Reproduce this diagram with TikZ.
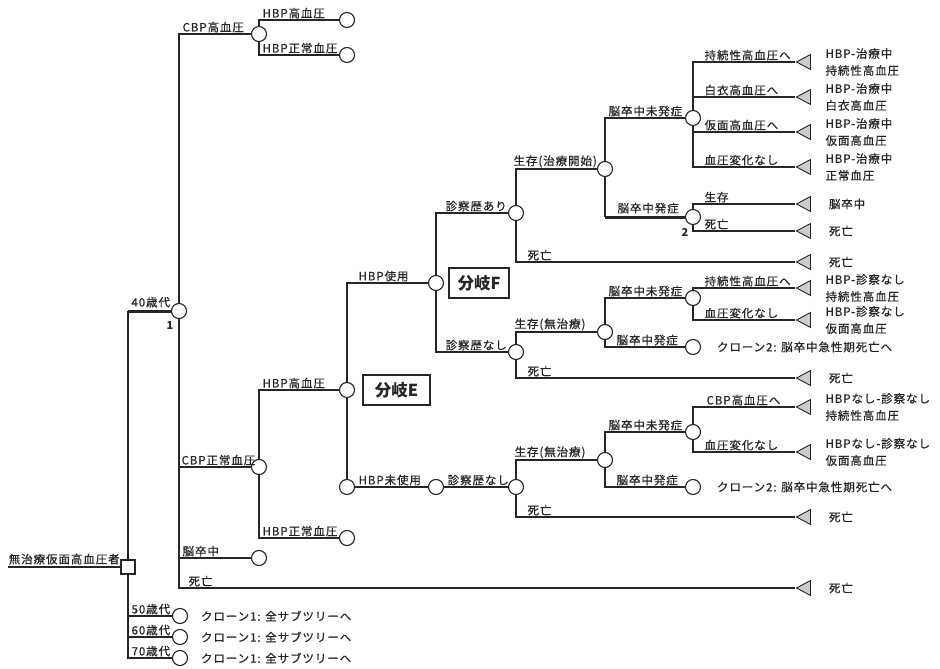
\documentclass[tikz,border=0pt]{standalone}
\usepackage{fontspec}
\newfontfamily\jpfont[LetterSpace=8, FakeBold=0.6]{Noto Sans CJK JP}
\newfontfamily\jpboxfont{Noto Sans CJK JP}
\usetikzlibrary{shapes.geometric, positioning}
\definecolor{inkgray}{HTML}{262626}
\definecolor{tipgray}{HTML}{CCCCCC}

\begin{document}
\begin{tikzpicture}[x=1pt, y=-1pt, line width=1.2pt, color=inkgray,
    font=\jpfont\fontsize{11.5}{17}\selectfont,
    chance/.style={circle, draw, fill=white, line width=1.1pt, minimum size=15pt, inner sep=0pt},
    decide/.style={rectangle, draw, fill=white, line width=1.1pt, minimum size=14pt, inner sep=0pt},
    leaf/.style={isosceles triangle, isosceles triangle stretches, shape border rotate=180, draw, fill=tipgray, line width=0.9pt, minimum width=15pt, minimum height=14pt, inner sep=0pt},
    tag/.style={pos=.5, anchor=south west, inner sep=1pt, xshift=2pt},
    tag0/.style={tag, pos=0},
    heavy/.style={line width=3pt},
    outcome/.style={align=left, inner sep=0pt},
    mark no/.style={font=\jpboxfont\bfseries\fontsize{11}{11}\selectfont, inner sep=0pt},
    branchbox/.style={draw, line width=2.2pt, font=\jpboxfont\bfseries\fontsize{16.5}{17}\selectfont, minimum width=60pt, minimum height=30pt, inner sep=2pt}]
  \useasboundingbox (0,0) rectangle (940,669);

  % root and age groups
  \node[decide] (root) at (128,567) {};
  \coordinate (start) at (8,567);
  \draw (start) -- node[above, inner sep=2pt]{無治療仮面高血圧者} (root);
  \node[chance] (c40) at (179,311) {};
  \coordinate (k40) at (root |- c40);
  \draw (root) -- (k40);
  \draw[heavy] (k40) -- node[tag0, xshift=-1pt, yshift=1pt]{40歳代} (c40);
  \node[mark no] (one) at (170,326) {1};
  \foreach \age/\yy in {50/616, 60/637, 70/658}{
    \node[chance] (c\age) at (180,\yy) {};
    \draw (root) |- node[tag]{\age{}歳代} (c\age);
    \node[right=9pt of c\age] (clone\age) {クローン1: 全サブツリーへ};
  }

  % 40s: CBP branches
  \node[chance] (cbpH) at (259,34) {};
  \node[chance] (cbpN) at (259,467) {};
  \node[chance] (stk40) at (259,558) {};
  \node[leaf] (d40) at (806,588) {};
  \draw (c40) |- node[tag]{CBP高血圧} (cbpH);
  \draw (c40) |- node[tag, xshift=-1pt]{CBP正常血圧} (cbpN);
  \draw (c40) |- node[tag]{脳卒中} (stk40);
  \draw (c40) |- node[tag, xshift=6pt]{死亡} (d40);
  \node[right=14pt of d40] (od40) {死亡};

  \node[chance] (hbpHH) at (347,20) {};
  \node[chance] (hbpHN) at (347,55) {};
  \draw (cbpH) |- node[tag]{HBP高血圧} (hbpHH);
  \draw (cbpH) |- node[tag]{HBP正常血圧} (hbpHN);

  \node[chance] (bE) at (347,390) {};
  \node[chance] (hbpNN) at (347,538) {};
  \draw (cbpN) |- node[tag]{HBP高血圧} (bE);
  \draw (cbpN) |- node[tag]{HBP正常血圧} (hbpNN);
  \node[branchbox, minimum width=67pt, right=7pt of bE] (boxE) {分岐E};

  % branch E
  \node[chance] (use) at (436,283) {};
  \node[branchbox, right=4pt of use] (boxF) {分岐F};
  \node[chance] (nouse) at (347,487) {};
  \node[chance] (unused) at (436,487) {};
  \draw (bE) |- node[tag, xshift=8pt]{HBP使用} (use);
  \draw (bE) -- (nouse);
  \draw (nouse) -- node[tag0]{HBP未使用} (unused);

  % branch F
  \node[chance] (dxYes) at (516,213) {};
  \node[chance] (dxNo) at (516,352) {};
  \draw (use) |- node[tag, xshift=6pt]{診察歴あり} (dxYes);
  \draw (use) |- node[tag, xshift=6pt]{診察歴なし} (dxNo);

  \node[chance] (surv1) at (605,169) {};
  \node[leaf] (d1) at (806,262) {};
  \draw (dxYes) |- node[tag, xshift=-6pt]{生存(治療開始)} (surv1);
  \draw (dxYes) |- node[tag, xshift=8pt]{死亡} (d1);
  \node[right=14pt of d1] (od1) {死亡};

  \node[chance] (noStk1) at (693,118) {};
  \node[chance] (stk1) at (693,217) {};
  \draw (surv1) |- node[tag]{脳卒中未発症} (noStk1);
  \coordinate (k1) at (surv1 |- stk1);
  \draw (surv1) -- (k1);
  \draw[heavy] (k1) -- node[tag0, xshift=8pt, yshift=1pt]{脳卒中発症} (stk1);
  \node[mark no] (two) at (685,232) {2};
  \foreach \i/\yy/\br/\res in {1/62/持続性高血圧へ/持続性高血圧, 2/97/白衣高血圧へ/白衣高血圧, 3/132/仮面高血圧へ/仮面高血圧, 4/167/血圧変化なし/正常血圧}{
    \node[leaf] (t\i) at (806,\yy) {};
    \draw (noStk1) |- node[tag, xshift=8pt]{\br} (t\i);
    \node[outcome, right=14pt of t\i] (o\i) {HBP-治療中\\\res};
  }
  \node[leaf] (t5) at (806,204) {};
  \node[leaf] (t6) at (806,231) {};
  \draw (stk1) |- node[tag, xshift=8pt]{生存} (t5);
  \draw (stk1) |- node[tag, xshift=8pt]{死亡} (t6);
  \node[right=14pt of t5] (o5) {脳卒中};
  \node[right=14pt of t6] (o6) {死亡};

  \node[chance] (surv2) at (605,332) {};
  \node[leaf] (d2) at (806,378) {};
  \draw (dxNo) |- node[tag, xshift=-5pt]{生存(無治療)} (surv2);
  \draw (dxNo) |- node[tag, xshift=8pt]{死亡} (d2);
  \node[right=14pt of d2] (od2) {死亡};
  \node[chance] (noStk2) at (693,298) {};
  \node[chance] (stk2) at (693,347) {};
  \draw (surv2) |- node[tag]{脳卒中未発症} (noStk2);
  \draw (surv2) |- node[tag, xshift=8pt]{脳卒中発症} (stk2);
  \node[right=12pt of stk2] (clone2a) {クローン2: 脳卒中急性期死亡へ};
  \node[leaf] (t7) at (806,288) {};
  \node[leaf] (t8) at (806,320) {};
  \draw (noStk2) |- node[tag, xshift=8pt]{持続性高血圧へ} (t7);
  \draw (noStk2) |- node[tag, xshift=8pt]{血圧変化なし} (t8);
  \node[outcome, right=14pt of t7] (o7) {HBP-診察なし\\持続性高血圧};
  \node[outcome, right=14pt of t8] (o8) {HBP-診察なし\\仮面高血圧};

  % HBP not used
  \node[chance] (dxNoB) at (516,487) {};
  \draw (unused) -- node[tag0]{診察歴なし} (dxNoB);
  \node[chance] (surv3) at (605,460) {};
  \node[leaf] (d3) at (806,517) {};
  \draw (dxNoB) |- node[tag, xshift=-5pt]{生存(無治療)} (surv3);
  \draw (dxNoB) |- node[tag, xshift=8pt]{死亡} (d3);
  \node[right=14pt of d3] (od3) {死亡};
  \node[chance] (noStk3) at (693,432) {};
  \node[chance] (stk3) at (693,487) {};
  \draw (surv3) |- node[tag]{脳卒中未発症} (noStk3);
  \draw (surv3) |- node[tag, xshift=8pt]{脳卒中発症} (stk3);
  \node[right=12pt of stk3] (clone2b) {クローン2: 脳卒中急性期死亡へ};
  \node[leaf] (t9) at (806,407) {};
  \node[leaf] (t10) at (806,452) {};
  \draw (noStk3) |- node[tag, xshift=10pt]{CBP高血圧へ} (t9);
  \draw (noStk3) |- node[tag, xshift=8pt]{血圧変化なし} (t10);
  \node[outcome, right=14pt of t9] (o9) {HBPなし-診察なし\\持続性高血圧};
  \node[outcome, right=14pt of t10] (o10) {HBPなし-診察なし\\仮面高血圧};
\end{tikzpicture}
\end{document}
